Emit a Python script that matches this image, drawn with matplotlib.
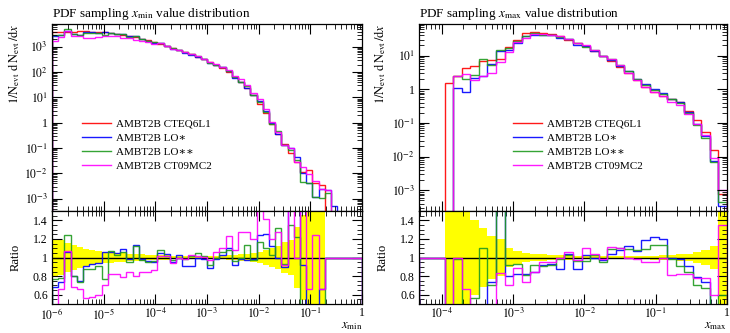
import numpy as np
import matplotlib.pyplot as plt
from matplotlib.ticker import LogLocator, FixedLocator, MultipleLocator, NullFormatter, FuncFormatter

plt.rcParams['font.family'] = ['Liberation Serif', 'DejaVu Serif']
plt.rcParams['mathtext.fontset'] = 'stix'

labels = ["AMBT2B CTEQ6L1", "AMBT2B LO\u2217", "AMBT2B LO\u2217\u2217", "AMBT2B CT09MC2"]
colors = ['#ff0000', '#0000ff', '#1f9a1f', '#ff00ff']

# x_min histogram: 50 log bins from 1e-6 to 1
xmin_edges = np.logspace(-6, 0, 51)
xmin_ref = [3900, 3800, 3950, 4000, 4050, 4100, 4000, 3900, 3700, 3400,
            3150, 2900, 2650, 2350, 2050, 1800, 1550, 1350, 1070, 890,
            740, 620, 500, 410, 330, 260, 200, 148, 102, 66,
            42, 24, 12.6, 5.6, 2.4, 0.89, 0.35, 0.14, 0.063, 0.028,
            0.0115, 0.014, 0.004, 0.0035, 0, 0, 0, 0, 0, 0]
xmin_ref_err = [0.2, 0.19, 0.16, 0.13, 0.11, 0.09, 0.08, 0.07, 0.06, 0.055,
                0.05, 0.045, 0.04, 0.035, 0.035, 0.03, 0.03, 0.03, 0.025, 0.02,
                0.02, 0.02, 0.02, 0.02, 0.02, 0.02, 0.02, 0.02, 0.025, 0.03,
                0.035, 0.04, 0.05, 0.06, 0.085, 0.1, 0.125, 0.165, 0.19, 0.33,
                0.46, 1.0, 1.0, 1.0, 0, 0, 0, 0, 0, 0]
# ratios to CTEQ6L1
xmin_ratio = {
    "lo1": [0.68, 0.74, 1.06, 0.80, 0.75, 0.91, 0.93, 0.94, 1.06, 1.06,
            1.05, 1.09, 0.98, 1.14, 0.98, 0.96, 0.95, 1.05, 1.04, 0.95,
            1.03, 0.91, 0.91, 1.0, 0.98, 0.89, 0.99, 1.03, 1.1, 0.92,
            0.98, 0.97, 0.98, 1.24, 1.25, 1.12, 1.0, 0.9, 1.6, 1.55,
            0.92, 0.3, 0.3, 0.66, 0, 0, 0, 0, 0, 0],
    "lo2": [0.77, 0.78, 1.24, 0.80, 0.74, 0.88, 0.88, 0.91, 0.77, 1.07,
            1.03, 1.06, 0.95, 1.12, 0.97, 0.95, 0.96, 1.08, 1.02, 0.97,
            1.0, 0.98, 1.02, 1.05, 1.02, 0.92, 1.0, 1.06, 1.08, 0.96,
            1.0, 1.13, 0.97, 1.17, 1.1, 1.03, 1.32, 0.93, 1.35, 1.22,
            0.4, 0.3, 0.3, 0.3, 0, 0, 0, 0, 0, 0],
    "ct09": [0.45, 0.66, 1.07, 0.68, 0.66, 0.56, 0.58, 0.60, 0.70, 0.82,
             0.82, 0.79, 0.85, 0.80, 0.85, 0.84, 0.87, 1.02, 1.02, 0.94,
             1.0, 0.98, 1.03, 1.02, 1.01, 0.97, 1.06, 1.10, 1.23, 1.08,
             1.28, 1.28, 1.20, 1.6, 1.42, 1.2, 1.27, 0.92, 1.6, 1.0,
             1.6, 0.66, 1.24, 0.66, 0, 0, 0, 0, 0, 0],
}
# bins where CTEQ6L1 is empty
xmin_beyond = {"lo1": {44: 0.0022, 45: 0.0005}, "lo2": {44: 0.0016}, "ct09": {44: 0.0022}}

# x_max histogram: same binning, shown from 10^-4.32
xmax_edges = np.logspace(-4.32, 0, 37)
xmax_ref = [0, 0, 0, 1.5, 2.5, 4.4, 4.8, 7.1, 7.4, 8.0,
            18.5, 29, 46, 50, 46, 43, 37, 30, 24, 19,
            14, 10, 7.1, 4.7, 3.1, 1.9, 1.2, 0.85, 0.65, 0.53,
            0.43, 0.23, 0.12, 0.055, 0.0155, 0.00076]
xmax_ref_err = [0, 0, 0, 1.0, 0.8, 0.6, 0.4, 0.32, 0.23, 0.2,
                0.1, 0.07, 0.05, 0.04, 0.035, 0.03, 0.03, 0.025, 0.02, 0.02,
                0.02, 0.02, 0.02, 0.02, 0.02, 0.02, 0.02, 0.022, 0.025, 0.03,
                0.035, 0.04, 0.06, 0.08, 0.12, 1.0]
xmax_ratio = {
    "lo1": [0, 0, 0, 0, 0.44, 0.19, 0.46, 0.35, 0.74, 1.7,
            0.80, 0.82, 0.82, 0.84, 0.92, 0.93, 0.88, 1.04, 0.88, 1.03,
            1.0, 0.97, 1.04, 1.08, 1.12, 1.07, 1.19, 1.22, 1.2, 1.0,
            0.99, 0.91, 0.79, 0.74, 0.48, 0.45],
    "lo2": [0, 0, 0, 0, 0.98, 0.45, 0.57, 1.1, 0.70, 1.8,
            0.92, 0.93, 0.81, 0.92, 0.91, 0.92, 0.98, 1.03, 0.96, 0.96,
            1.03, 0.95, 1.09, 1.1, 1.09, 1.08, 1.09, 1.14, 1.14, 0.98,
            0.91, 0.84, 0.70, 0.67, 0.45, 0.6],
    "ct09": [0, 0, 0, 0, 1.0, 0.66, 0.4, 0.35, 0.4, 0.83,
             0.70, 0.89, 0.74, 0.85, 0.95, 0.95, 1.0, 1.06, 0.97, 1.1,
             1.04, 0.99, 1.11, 1.1, 1.0, 0.98, 0.95, 0.95, 1.0, 0.81,
             0.82, 0.82, 0.78, 0.78, 0.6, 1.35],
}
xmax_beyond = {"lo1": {}, "lo2": {}, "ct09": {}}

order = ["lo1", "lo2", "ct09"]


def build(ref, ratios, beyond):
    ref = np.array(ref, float)
    out = [ref]
    for key in order:
        v = np.where(ref > 0, ref * np.array(ratios[key], float), 0.0)
        for i, val in beyond[key].items():
            v[i] = val
        out.append(v)
    return out


def logfmt(v, pos):
    e = int(round(np.log10(v)))
    return "1" if e == 0 else r"$10^{%d}$" % e


def style(ax):
    ax.tick_params(which='both', direction='in', top=True, right=True, labelsize=8.5, pad=3)
    ax.tick_params(which='major', length=7, width=0.8)
    ax.tick_params(which='minor', length=3.5, width=0.6)
    for s in ax.spines.values():
        s.set_linewidth(0.9)


def panel(fig, left, width, edges, ref, err, ratios, beyond, ylim, title, xlab, leg_x, lab_x):
    series = build(ref, ratios, beyond)
    ref = series[0]
    err = np.array(err, float)

    ax = fig.add_axes([left, 0.366, width, 0.562])
    ax2 = fig.add_axes([left, 0.087, width, 0.279], sharex=ax)

    for v, c, lab in zip(series, colors, labels):
        ax.stairs(np.where(v > 0, v, 1e-12), edges, color=c, lw=1.0, label=lab, alpha=0.9)
    ax.set_xscale('log')
    ax.set_yscale('log')
    ax.set_xlim(edges[0], edges[-1])
    ax.set_ylim(*ylim)
    ax.yaxis.set_major_locator(LogLocator(base=10, numticks=20))
    ax.yaxis.set_minor_locator(LogLocator(base=10, subs=np.arange(2, 10), numticks=20))
    ax.yaxis.set_major_formatter(FuncFormatter(logfmt))
    ax.yaxis.set_minor_formatter(NullFormatter())
    ax.tick_params(labelbottom=False)
    style(ax)
    ax.set_ylabel(r"$1/\mathrm{N}_{\mathrm{evt}}\ \mathrm{d}\,\mathrm{N}_{\mathrm{evt}}\,/\mathrm{d}x$",
                  loc='top', fontsize=9)
    ax.yaxis.set_label_coords(lab_x, 1.0)
    ax.set_title(title, loc='left', fontsize=9.5, pad=5)
    ax.legend(loc='upper left', bbox_to_anchor=(leg_x, 0.493), frameon=False,
              fontsize=8, handlelength=2.6, handletextpad=0.5, labelspacing=0.4,
              borderpad=0, borderaxespad=0)

    # ratio panel
    band = np.where(ref > 0, err, 0.0)
    ax2.stairs(1 + band, edges, baseline=1 - band, fill=True, color='#ffff00', lw=0, zorder=1)
    ax2.axhline(1.0, color='black', lw=1.0, zorder=1.5)
    for v, c in zip(series[1:], colors[1:]):
        r = np.where(ref > 0, v / np.where(ref > 0, ref, 1), 1.0)
        ax2.stairs(r, edges, color=c, lw=1.0, alpha=0.9, zorder=2)
    ax2.set_ylim(0.5, 1.5)
    ax2.yaxis.set_major_locator(FixedLocator([0.6, 0.8, 1.0, 1.2, 1.4]))
    ax2.yaxis.set_major_formatter(FuncFormatter(lambda v, p: "%g" % v))
    ax2.yaxis.set_minor_locator(MultipleLocator(0.05))
    ax2.xaxis.set_major_locator(LogLocator(base=10, numticks=20))
    ax2.xaxis.set_minor_locator(LogLocator(base=10, subs=np.arange(2, 10), numticks=20))
    ax2.xaxis.set_major_formatter(FuncFormatter(logfmt))
    ax2.xaxis.set_minor_formatter(NullFormatter())
    style(ax2)
    ax2.tick_params(axis='x', pad=2)
    ax2.set_ylabel("Ratio", fontsize=9)
    ax2.yaxis.set_label_coords(lab_x, 0.5)
    ax2.set_xlabel(xlab, loc='right', fontsize=9, labelpad=-1)
    return ax, ax2


fig = plt.figure(figsize=(7.3, 3.33), dpi=100)
a1, b1 = panel(fig, 0.0712, 0.4247, xmin_edges, xmin_ref, xmin_ref_err, xmin_ratio, xmin_beyond,
               (3.2e-4, 8e3), r"PDF sampling $x_{\mathrm{min}}$ value distribution",
               r"$x_{\mathrm{min}}$", 0.097, -0.097)
a2, b2 = panel(fig, 0.574, 0.4219, xmax_edges, xmax_ref, xmax_ref_err, xmax_ratio, xmax_beyond,
               (2.4e-4, 87), r"PDF sampling $x_{\mathrm{max}}$ value distribution",
               r"$x_{\mathrm{max}}$", 0.305, -0.1)

fig.savefig("out.png", dpi=100)
